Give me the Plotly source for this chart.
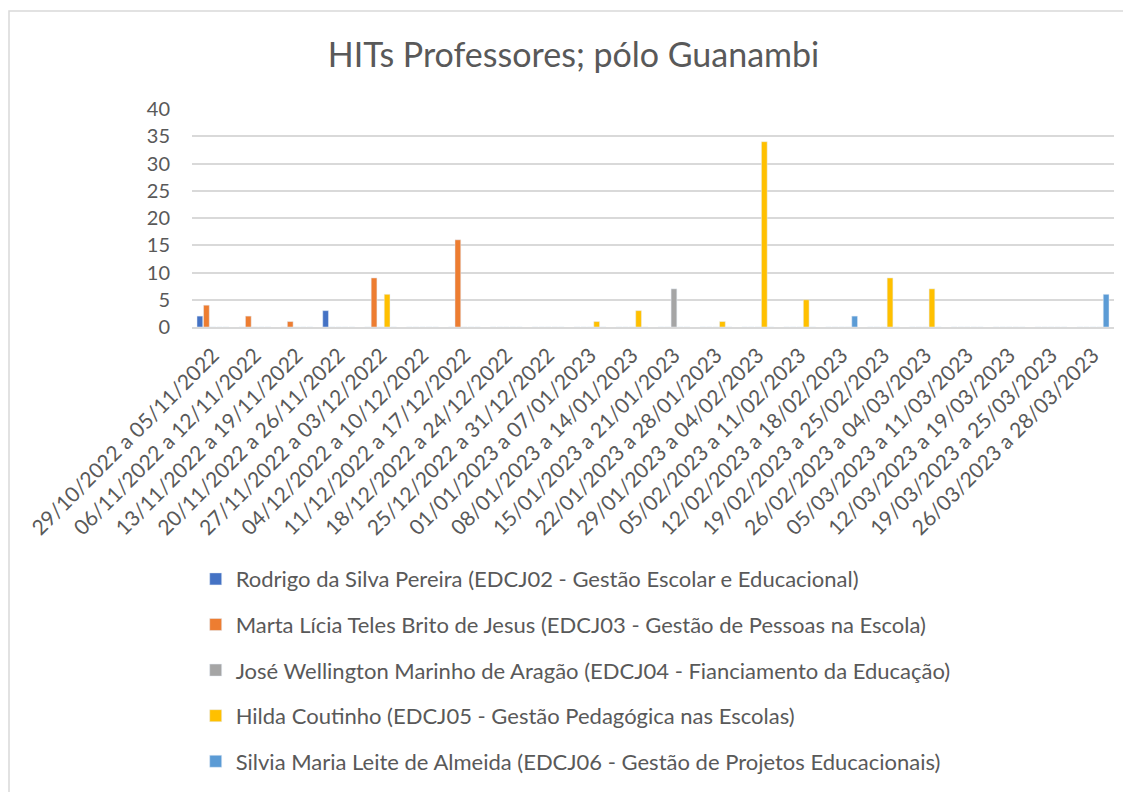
import plotly.graph_objects as go

semanas = [
    "29/10/2022 a 05/11/2022", "06/11/2022 a 12/11/2022", "13/11/2022 a 19/11/2022",
    "20/11/2022 a 26/11/2022", "27/11/2022 a 03/12/2022", "04/12/2022 a 10/12/2022",
    "11/12/2022 a 17/12/2022", "18/12/2022 a 24/12/2022", "25/12/2022 a 31/12/2022",
    "01/01/2023 a 07/01/2023", "08/01/2023 a 14/01/2023", "15/01/2023 a 21/01/2023",
    "22/01/2023 a 28/01/2023", "29/01/2023 a 04/02/2023", "05/02/2023 a 11/02/2023",
    "12/02/2023 a 18/02/2023", "19/02/2023 a 25/02/2023", "26/02/2023 a 04/03/2023",
    "05/03/2023 a 11/03/2023", "12/03/2023 a 19/03/2023", "19/03/2023 a 25/03/2023",
    "26/03/2023 a 28/03/2023",
]

rodrigo = [2, 0, 0, 3, 0, 0, 0, 0, 0, 0, 0, 0, 0, 0, 0, 0, 0, 0, 0, 0, 0, 0]
marta = [4, 2, 1, 0, 9, 0, 16, 0, 0, 0, 0, 0, 0, 0, 0, 0, 0, 0, 0, 0, 0, 0]
jose = [0, 0, 0, 0, 0, 0, 0, 0, 0, 0, 0, 7, 0, 0, 0, 0, 0, 0, 0, 0, 0, 0]
hilda = [0, 0, 0, 0, 6, 0, 0, 0, 0, 1, 3, 0, 1, 34, 5, 0, 9, 7, 0, 0, 0, 0]
silvia = [0, 0, 0, 0, 0, 0, 0, 0, 0, 0, 0, 0, 0, 0, 0, 2, 0, 0, 0, 0, 0, 6]

series = [
    ("Rodrigo da Silva Pereira (EDCJ02 - Gestão Escolar e Educacional)", rodrigo, "#4472C4"),
    ("Marta Lícia Teles Brito de Jesus (EDCJ03 - Gestão de Pessoas na Escola)", marta, "#ED7D31"),
    ("José Wellington Marinho de Aragão (EDCJ04 - Fianciamento da Educação)", jose, "#A5A5A5"),
    ("Hilda Coutinho (EDCJ05 - Gestão Pedagógica nas Escolas)", hilda, "#FFC000"),
    ("Silvia Maria Leite de Almeida (EDCJ06 - Gestão de Projetos Educacionais)", silvia, "#5B9BD5"),
]

FONT = "Lato, Calibri, sans-serif"
GRAY = "#595959"

fig = go.Figure()
for i, (nome, valores, cor) in enumerate(series):
    fig.add_trace(go.Bar(
        x=semanas, y=valores, name=nome,
        marker_color=cor, legendgroup=str(i),
    ))

# the page body adds 8px of offset, so margins are trimmed to compensate
fig.update_layout(
    width=1131, height=792,
    barmode="group", bargap=0.22, bargroupgap=0.12,
    paper_bgcolor="white", plot_bgcolor="white",
    font=dict(family=FONT, color=GRAY, size=20),
    title=dict(text="HITs Professores; pólo Guanambi", x=0.5, xanchor="center",
               y=0.94, yanchor="middle", font=dict(size=34, color=GRAY)),
    margin=dict(l=184, r=25, t=101, b=473),
    showlegend=True,
    legend=dict(orientation="v", x=0.004, xanchor="left", y=-1.06, yanchor="top",
                font=dict(size=22, color=GRAY), tracegroupgap=14,
                itemwidth=30),
    xaxis=dict(tickangle=-45, showgrid=False, showline=True, linecolor="#D9D9D9",
               linewidth=1.5, ticks="", ticklabelstandoff=6,
               tickfont=dict(size=21, color=GRAY)),
    yaxis=dict(range=[0, 40], dtick=5, showgrid=True, gridcolor="#D9D9D9",
               gridwidth=1.5, zeroline=False, ticks="", ticklabelstandoff=21,
               tickfont=dict(size=20, color=GRAY)),
)

# chart border (only left and top edges are visible in the frame)
fig.add_shape(type="rect", xref="paper", yref="paper", x0=-183 / 922, x1=1.2,
              y0=-2.5, y1=1 + 98 / 218, line=dict(color="#D9D9D9", width=1.5))

fig.write_html("out.html")
